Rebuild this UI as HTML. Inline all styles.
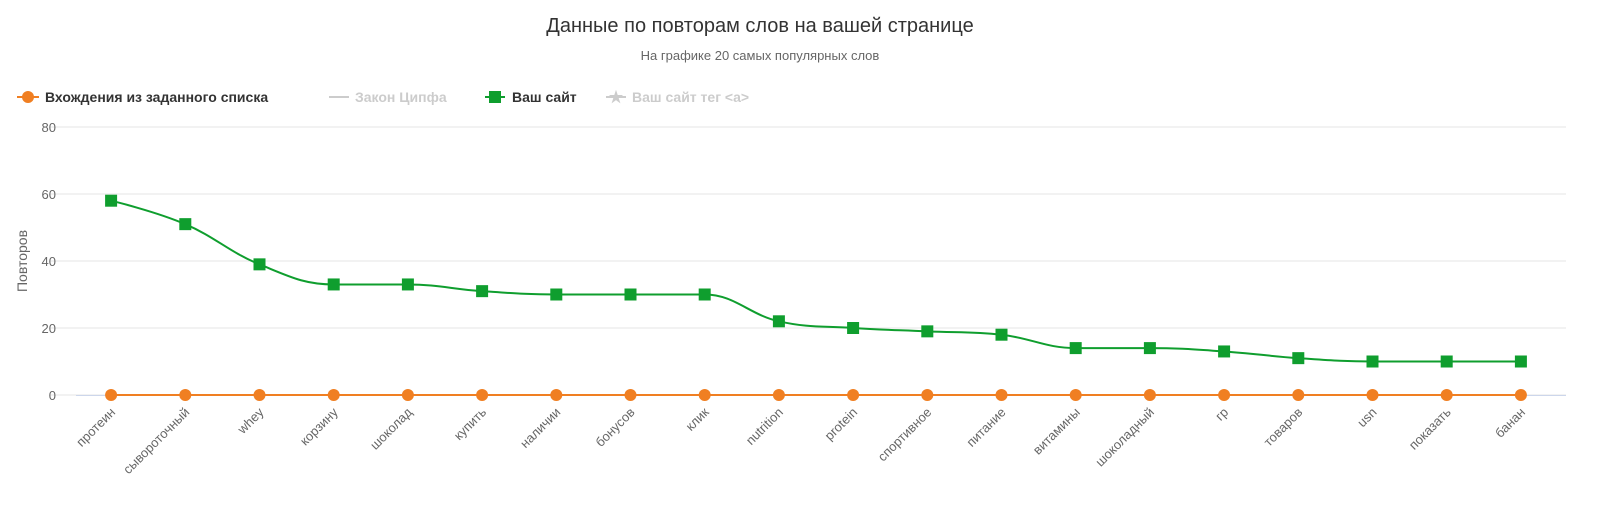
<!DOCTYPE html>
<html><head><meta charset="utf-8"><style>
html,body{margin:0;padding:0;background:#fff;}
svg{display:block;font-family:"Liberation Sans","Noto Sans CJK SC",sans-serif;}
</style></head><body>
<svg id="chart" width="1600" height="510">
<rect width="1600" height="510" fill="#fff"/>
<text x="760" y="32" text-anchor="middle" font-size="20" fill="#333">Данные по повторам слов на вашей странице</text>
<text x="760" y="60" text-anchor="middle" font-size="13" fill="#666">На графике 20 самых популярных слов</text>
<g font-size="14" font-weight="bold">
 <g><line x1="17" y1="97" x2="39" y2="97" stroke="#f07f22" stroke-width="2"/><circle cx="28" cy="97" r="6" fill="#f07f22"/><text x="45" y="102" fill="#333">Вхождения из заданного списка</text></g>
 <g><line x1="329" y1="97" x2="349" y2="97" stroke="#ccc" stroke-width="2"/><text x="355" y="102" fill="#ccc">Закон Ципфа</text></g>
 <g><line x1="485" y1="97" x2="505" y2="97" stroke="#0f9e2e" stroke-width="2"/><rect x="489" y="91" width="12" height="12" fill="#0f9e2e"/><text x="512" y="102" fill="#333">Ваш сайт</text></g>
 <g><line x1="606" y1="97" x2="626" y2="97" stroke="#ccc" stroke-width="2"/><text x="616" y="102" text-anchor="middle" font-size="15" fill="#ccc">★</text><text x="632" y="102" fill="#ccc">Ваш сайт тег &lt;a&gt;</text></g>
</g>
<text transform="translate(27,261) rotate(-90)" text-anchor="middle" font-size="14" fill="#666">Повторов</text>
<g id="grid"></g><g id="series"></g><g id="xlabels"></g>
</svg>
<script>
const categories=["протеин","сывороточный","whey","корзину","шоколад","купить","наличии","бонусов","клик","nutrition","protein","спортивное","питание","витамины","шоколадный","гр","товаров","usn","показать","банан"];
const siteValues=[58,51,39,33,33,31,30,30,30,22,20,19,18,14,14,13,11,10,10,10];
const listValues=[0,0,0,0,0,0,0,0,0,0,0,0,0,0,0,0,0,0,0,0];
const yTicks=[0,20,40,60,80];
const NS="http://www.w3.org/2000/svg";
const plotL=74,step=74.2,y0=395,pxPer=67/20;
const xs=i=>plotL+step*(i+0.5);
const ys=v=>y0-v*pxPer;
function mk(tag,attrs,parent){const e=document.createElementNS(NS,tag);for(const k in attrs)e.setAttribute(k,attrs[k]);parent.appendChild(e);return e;}
const grid=document.getElementById('grid');
yTicks.forEach(t=>{
 const l=mk('line',{x1:50,x2:1566,y1:ys(t),y2:ys(t),stroke:'#e6e6e6','stroke-width':1},grid);
 
 
 const tx=mk('text',{x:56,y:ys(t)+5,'text-anchor':'end','font-size':13,fill:'#666'},grid);
 tx.textContent=t;
 
 
});
const ax=mk('line',{x1:plotL+2,x2:1566,y1:y0+0.5,y2:y0+0.5,stroke:'#ccd6eb','stroke-width':1},grid);


const xl=document.getElementById('xlabels');
categories.forEach((c,i)=>{
 const x=xs(i)+5,y=413;
 const t=mk('text',{x:x,y:y,'text-anchor':'end','font-size':13,fill:'#666',transform:`rotate(-45 ${x} ${y})`},xl);
 t.textContent=c;
 
 
});
function splinePath(pts){
 const s=1.5,d=s+1;let p=`M${pts[0][0]},${pts[0][1]}`;
 const ctrl=[];
 for(let i=0;i<pts.length;i++){
  if(i===0||i===pts.length-1){ctrl.push(null);continue;}
  const [px,py]=pts[i-1],[x,y]=pts[i],[nx,ny]=pts[i+1];
  let lx=(s*x+px)/d,ly=(s*y+py)/d,rx=(s*x+nx)/d,ry=(s*y+ny)/d;
  const corr=((ry-ly)*(rx-x))/(rx-lx)+y-ry;
  ly+=corr;ry+=corr;
  if(ly>py&&ly>y){ly=Math.max(py,y);ry=2*y-ly;}else if(ly<py&&ly<y){ly=Math.min(py,y);ry=2*y-ly;}
  if(ry>ny&&ry>y){ry=Math.max(ny,y);ly=2*y-ry;}else if(ry<ny&&ry<y){ry=Math.min(ny,y);ly=2*y-ry;}
  ctrl.push({lx,ly,rx,ry});
 }
 for(let i=1;i<pts.length;i++){
  const a=ctrl[i-1],b=ctrl[i];
  const c1=a?[a.rx,a.ry]:pts[i-1],c2=b?[b.lx,b.ly]:pts[i];
  p+=` C${c1[0]},${c1[1]} ${c2[0]},${c2[1]} ${pts[i][0]},${pts[i][1]}`;
 }
 return p;
}
const sg=document.getElementById('series');
const listPts=listValues.map((v,i)=>[xs(i),ys(v)]);
const ol=mk('path',{d:splinePath(listPts),fill:'none',stroke:'#f07f22','stroke-width':2},sg);


const sitePts=siteValues.map((v,i)=>[xs(i),ys(v)]);
const gl=mk('path',{d:splinePath(sitePts),fill:'none',stroke:'#0f9e2e','stroke-width':2},sg);


listPts.forEach(p=>{
 const c=mk('circle',{cx:p[0],cy:p[1],r:6,fill:'#f07f22'},sg);
 
 
});
sitePts.forEach(p=>{
 const r=mk('rect',{x:p[0]-6,y:p[1]-6,width:12,height:12,fill:'#0f9e2e'},sg);
 
 
});
</script>
</body></html>
